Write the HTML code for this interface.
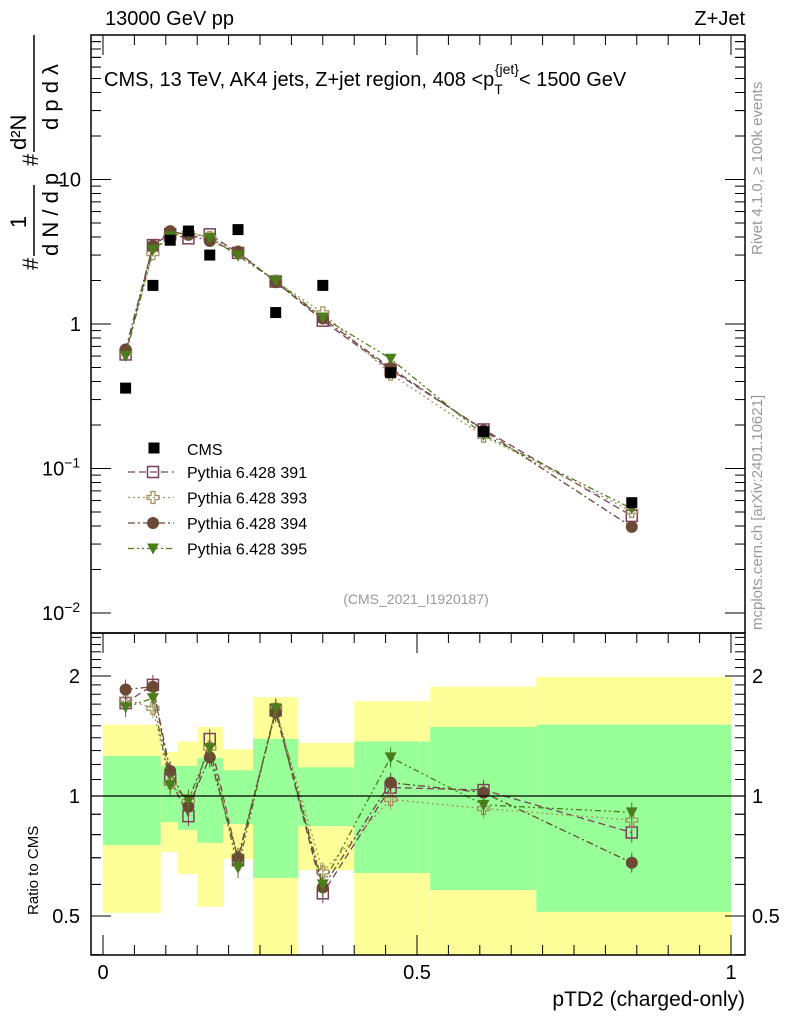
<!DOCTYPE html>
<html><head><meta charset="utf-8"><style>
body{margin:0;background:#fff}
svg text{font-family:"Liberation Sans",sans-serif}
</style></head><body>
<svg id="chart" width="786" height="1024" xmlns="http://www.w3.org/2000/svg">
<g id="bands"></g>
<g id="grid"></g>
<g id="marks"></g>
<g id="axes"></g>
</svg>
<script>
const xs=[0.036,0.0795,0.107,0.136,0.17,0.215,0.275,0.35,0.458,0.606,0.842];
const cms=[0.36,1.85,3.8,4.4,3.0,4.5,1.2,1.85,0.46,0.18,0.058];
const r391=[1.71,1.90,1.10,0.89,1.39,0.69,1.64,0.57,1.05,1.035,0.81];
const r393=[1.75,1.66,1.08,0.97,1.32,0.70,1.65,0.645,0.98,0.93,0.87];
const r394=[1.85,1.88,1.155,0.94,1.25,0.70,1.62,0.59,1.08,1.02,0.68];
const r395=[1.67,1.76,1.065,0.98,1.32,0.66,1.66,0.60,1.25,0.95,0.91];
const binEdges=[0,0.092,0.119,0.15,0.191,0.239,0.311,0.4,0.521,0.69,1.0];
const yelLo=[0.509,0.724,0.637,0.527,0.695,0.3,0.652,0.3,0.3,0.3];
const yelHi=[1.51,1.29,1.37,1.49,1.31,1.77,1.36,1.73,1.88,1.99];
const grnLo=[0.753,0.86,0.822,0.763,0.85,0.623,0.84,0.641,0.581,0.512];
const grnHi=[1.26,1.19,1.19,1.245,1.16,1.39,1.18,1.37,1.49,1.51];
const xTicks=[0,0.5,1];
const xTickLabels=["0","0.5","1"];

const NS="http://www.w3.org/2000/svg";
const L=91,R=745,T=35,MB=633,RB=955;
const X=v=>103+628*v;
const Y=v=>324-144.5*Math.log10(v);
const RY=r=>796-398.6*Math.log10(r);
function mk(tag,attrs,parent,txt){const e=document.createElementNS(NS,tag);for(const k in attrs)e.setAttribute(k,attrs[k]);if(txt!==undefined)e.textContent=txt;(parent||document.getElementById('chart')).appendChild(e);return e;}
const bands=document.getElementById('bands'),marks=document.getElementById('marks'),axes=document.getElementById('axes');
const clipTop=RY(2.54),clipBot=RB;
for(let i=0;i<binEdges.length-1;i++){
  const x0=X(binEdges[i]),x1=X(binEdges[i+1]);
  const yt=Math.max(RY(yelHi[i]),clipTop),yb=Math.min(RY(yelLo[i]),clipBot);
  const y=mk('rect',{x:x0,y:yt,width:x1-x0,height:yb-yt,fill:'#ffff99'},bands);
  
  
  const gt=RY(grnHi[i]),gb=RY(grnLo[i]);
  const g=mk('rect',{x:x0,y:gt,width:x1-x0,height:gb-gt,fill:'#99ff99'},bands);
  
  
}
mk('line',{x1:L,x2:R,y1:RY(1),y2:RY(1),stroke:'#000','stroke-width':1.3},axes);
// frames
mk('rect',{x:L,y:T,width:R-L,height:MB-T,fill:'none',stroke:'#000','stroke-width':1.5},axes);
mk('rect',{x:L,y:MB,width:R-L,height:RB-MB,fill:'none',stroke:'#000','stroke-width':1.5},axes);
// main y ticks
for(let d=-2;d<=1;d++){for(let m=1;m<10;m++){const v=m*Math.pow(10,d);const y=Y(v);if(y<T||y>MB)continue;const len=m==1?20:10;mk('line',{x1:L,x2:L+len,y1:y,y2:y,stroke:'#000'},axes);mk('line',{x1:R,x2:R-len,y1:y,y2:y,stroke:'#000'},axes);}}
for(let d=1;d<=2;d++){for(let m=2;m<10;m++){const y=Y(m*Math.pow(10,d));if(y<T)continue;mk('line',{x1:L,x2:L+10,y1:y,y2:y,stroke:'#000'},axes);mk('line',{x1:R,x2:R-10,y1:y,y2:y,stroke:'#000'},axes);}}
mk('text',{x:81,y:Y(10)+7,'font-size':20,'text-anchor':'end',},axes,'10');
mk('text',{x:81,y:Y(1)+7,'font-size':20,'text-anchor':'end',},axes,'1');
const t1=mk('text',{x:42,y:Y(0.1)+7,'font-size':20,},axes,'10');mk('tspan',{dy:-8,'font-size':14},t1,'−1');
const t2=mk('text',{x:42,y:Y(0.01)+7,'font-size':20,},axes,'10');mk('tspan',{dy:-8,'font-size':14},t2,'−2');
// ratio ticks
[0.5,0.6,0.7,0.8,0.9,1,2].forEach(r=>{const y=RY(r);const len=(r==1||r==2||r==0.5)?20:10;mk('line',{x1:L,x2:L+len,y1:y,y2:y,stroke:'#000'},axes);mk('line',{x1:R,x2:R-len,y1:y,y2:y,stroke:'#000'},axes);});
[0.4,0.5,0.6,0.7,0.8,0.9,1.1,1.2,1.3,1.4,1.5,1.6,1.7,1.8,1.9,2.1,2.2,2.3,2.4,2.5].forEach(r=>{const y=RY(r);if(y>RB||y<MB)return;mk('line',{x1:L,x2:L+10,y1:y,y2:y,stroke:'#000'},axes);mk('line',{x1:R,x2:R-10,y1:y,y2:y,stroke:'#000'},axes);});
[[2,'2'],[1,'1'],[0.5,'0.5']].forEach(([r,s])=>{mk('text',{x:80,y:RY(r)+7,'font-size':20,'text-anchor':'end'},axes,s);mk('text',{x:752,y:RY(r)+7,'font-size':20},axes,s);});
// x ticks
for(let i=0;i<=20;i++){const v=i*0.05-0.0;const x=X(v);if(x<L||x>R)continue;const len=i%10==0?20:10;mk('line',{x1:x,x2:x,y1:RB,y2:RB-len,stroke:'#000'},axes);mk('line',{x1:x,x2:x,y1:MB,y2:MB+len,stroke:'#000'},axes);mk('line',{x1:x,x2:x,y1:T,y2:T+len,stroke:'#000'},axes);}
xTicks.forEach((v,i)=>{const t=mk('text',{x:X(v),y:979,'font-size':20,'text-anchor':'middle'},axes,xTickLabels[i]);});
// labels
mk('text',{x:745,y:1006,'font-size':21,'text-anchor':'end',},axes,'pTD2 (charged-only)');
mk('text',{x:105,y:25,'font-size':20,},axes,'13000 GeV pp');
mk('text',{x:745,y:25,'font-size':20,'text-anchor':'end',},axes,'Z+Jet');
const tt=mk('text',{x:104,y:86,'font-size':20,},axes,'CMS, 13 TeV, AK4 jets, Z+jet region, 408 <p');
mk('tspan',{dy:8,'font-size':14},tt,'T');mk('tspan',{dy:-20,dx:-8,'font-size':14},tt,'{jet}');mk('tspan',{dy:12,'font-size':20},tt,'< 1500 GeV');
mk('text',{x:416,y:604,'font-size':14,fill:'#999','text-anchor':'middle',},axes,'(CMS_2021_I1920187)');
mk('text',{transform:'translate(762,255) rotate(-90)','font-size':15,fill:'#999',},axes,'Rivet 4.1.0, ≥ 100k events');
mk('text',{transform:'translate(762,630) rotate(-90)','font-size':15,fill:'#999',},axes,'mcplots.cern.ch [arXiv:2401.10621]');
mk('text',{transform:'translate(38,915) rotate(-90)','font-size':15,},axes,'Ratio to CMS');
const yl=mk('g',{transform:'translate(38,270) rotate(-90)',},axes);
mk('text',{x:0,y:0,'font-size':22},yl,'#');
mk('text',{x:48,y:-12,'font-size':22,'text-anchor':'middle'},yl,'1');
mk('line',{x1:14,x2:85,y1:-4,y2:-4,stroke:'#000','stroke-width':1.5},yl);
mk('text',{x:14,y:20,'font-size':22},yl,'d N / d p');
mk('text',{x:104,y:0,'font-size':22},yl,'#');
mk('text',{x:120,y:-12,'font-size':22},yl,'d²N');
mk('line',{x1:118,x2:235,y1:-4,y2:-4,stroke:'#000','stroke-width':1.5},yl);
mk('text',{x:140,y:20,'font-size':22},yl,'d p   d λ');
// series
const series=[
 {n:'pythia-391',r:r391,c:'#7b3f5e',dash:'7,4',m:'sq'},
 {n:'pythia-393',r:r393,c:'#a89060',dash:'2,3',m:'cross'},
 {n:'pythia-394',r:r394,c:'#6b4a35',dash:'7,3,2,3',m:'circ'},
 {n:'pythia-395',r:r395,c:'#4b7d1a',dash:'6,3,2,3,2,3',m:'tri'}];
function marker(s,x,y,g){let e;
 if(s.m=='sq')e=mk('rect',{x:x-5.5,y:y-5.5,width:11,height:11,fill:'none',stroke:s.c,'stroke-width':1.5},g);
 else if(s.m=='cross')e=mk('path',{d:`M${x-2},${y-6}h4v4h4v4h-4v4h-4v-4h-4v-4h4z`,fill:'none',stroke:s.c,'stroke-width':1.3},g);
 else if(s.m=='circ')e=mk('circle',{cx:x,cy:y,r:6,fill:s.c},g);
 else e=mk('path',{d:`M${x-6},${y-5}L${x+6},${y-5}L${x},${y+6}z`,fill:s.c},g);
 
 }
series.forEach(s=>{
 const g=mk('g',{},marks);
 
 
 const mv=s.r.map((r,i)=>r*cms[i]);
 mk('polyline',{points:xs.map((x,i)=>X(x)+','+Y(mv[i])).join(' '),fill:'none',stroke:s.c,'stroke-width':1.3,'stroke-dasharray':s.dash},g);
 mk('polyline',{points:xs.map((x,i)=>X(x)+','+RY(s.r[i])).join(' '),fill:'none',stroke:s.c,'stroke-width':1.3,'stroke-dasharray':s.dash},g);
 xs.forEach((x,i)=>{marker(s,X(x),Y(mv[i]),g);const ry=RY(s.r[i]);mk('line',{x1:X(x),x2:X(x),y1:ry-10,y2:ry+10,stroke:s.c,'stroke-width':1},g);marker(s,X(x),ry,g);});
});
const cg=mk('g',{},marks);


xs.forEach((x,i)=>{const p=mk('rect',{x:X(x)-5.5,y:Y(cms[i])-5.5,width:11,height:11,fill:'#000'},cg);});
// legend
const lg=mk('g',{},axes);


mk('rect',{x:148.5,y:442.5,width:11,height:11,fill:'#000'},lg);
mk('text',{x:187,y:455,'font-size':16},lg,'CMS');
const names=['Pythia 6.428 391','Pythia 6.428 393','Pythia 6.428 394','Pythia 6.428 395'];
series.forEach((s,i)=>{const y=472+i*25.5;
 const e=mk('g',{},lg);
 mk('line',{x1:128,x2:174,y1:y,y2:y,stroke:s.c,'stroke-width':1.3,'stroke-dasharray':s.dash},e);
 marker(s,153,y,e);
 mk('text',{x:187,y:y+6,'font-size':16},e,names[i]);});
</script>
</body></html>
